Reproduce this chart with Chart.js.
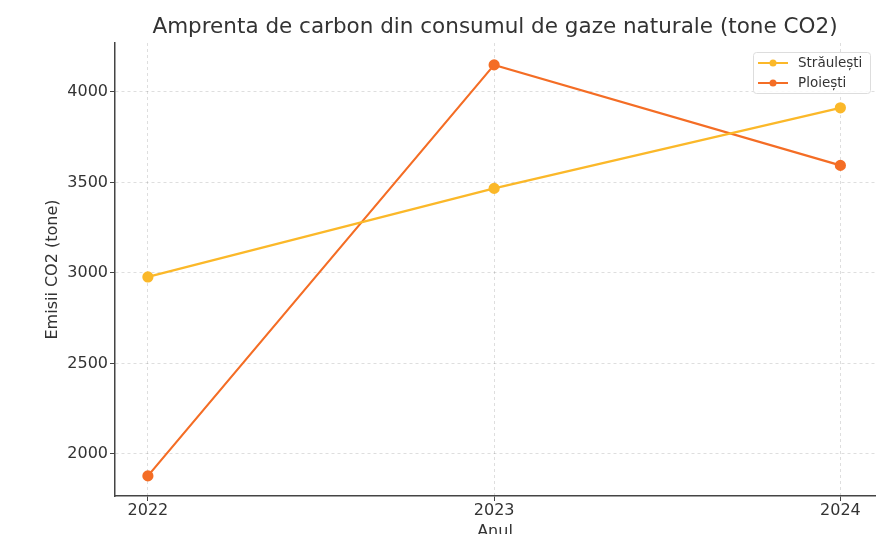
<!DOCTYPE html>
<html>
<head>
<meta charset="utf-8">
<script src="https://cdn.jsdelivr.net/npm/chart.js@4.4.0/dist/chart.umd.min.js"></script>
<style>
  html, body { margin: 0; padding: 0; background: #fff; }
  #wrap { width: 893px; height: 534px; }
</style>
</head>
<body>
<div id="wrap"><canvas id="graph"></canvas></div>
<script>
// data
const years = [2022, 2023, 2024];
const straulesti = [2978, 3467, 3912];
const ploiesti = [1879, 4149, 3594];
const yTicks = [2000, 2500, 3000, 3500, 4000];
const chartTitle = 'Amprenta de carbon din consumul de gaze naturale (tone CO2)';

const font = "'DejaVu Sans', sans-serif";
const gridColor = 'rgba(0,0,0,0.13)';
const axisColor = '#444';

// title centred over the plot area (matplotlib style), not the whole canvas
const plotTitle = {
  id: 'plotTitle',
  afterDraw(chart) {
    const ctx = chart.ctx;
    const area = chart.chartArea;
    ctx.save();
    ctx.font = '21.5px ' + font;
    ctx.fillStyle = '#333';
    ctx.textAlign = 'center';
    ctx.textBaseline = 'middle';
    ctx.fillText(chartTitle, (area.left + area.right) / 2, 27);
    ctx.restore();
  }
};

// small legend box in the top right corner of the plot
const cornerLegend = {
  id: 'cornerLegend',
  afterDraw(chart) {
    const ctx = chart.ctx;
    const area = chart.chartArea;
    const x0 = area.right - 122, y0 = area.top + 9;
    ctx.save();
    ctx.fillStyle = 'rgba(255,255,255,0.85)';
    ctx.strokeStyle = '#ddd';
    ctx.lineWidth = 1;
    ctx.beginPath();
    ctx.roundRect(x0 + 0.5, y0 + 0.5, 117, 41, 3);
    ctx.fill();
    ctx.stroke();
    ctx.font = '13.5px ' + font;
    ctx.textBaseline = 'middle';
    chart.data.datasets.forEach((ds, i) => {
      const y = y0 + 11 + i * 20;
      ctx.strokeStyle = ds.borderColor;
      ctx.lineWidth = 2;
      ctx.beginPath();
      ctx.moveTo(x0 + 5, y);
      ctx.lineTo(x0 + 35, y);
      ctx.stroke();
      ctx.fillStyle = ds.borderColor;
      ctx.beginPath();
      ctx.arc(x0 + 20, y, 3.5, 0, Math.PI * 2);
      ctx.fill();
      ctx.fillStyle = '#333';
      ctx.fillText(ds.label, x0 + 45, y);
    });
    ctx.restore();
  }
};

const toPoints = vals => years.map((y, i) => ({ x: y, y: vals[i] }));

new Chart(document.getElementById('graph'), {
  type: 'line',
  data: {
    datasets: [
      {
        label: 'Străulești',
        data: toPoints(straulesti),
        borderColor: '#fbb829',
        backgroundColor: '#fbb829',
        borderWidth: 2.2,
        pointRadius: 4.5,
        pointHoverRadius: 4.5
      },
      {
        label: 'Ploiești',
        data: toPoints(ploiesti),
        borderColor: '#f46d25',
        backgroundColor: '#f46d25',
        borderWidth: 2.2,
        pointRadius: 4.5,
        pointHoverRadius: 4.5
      }
    ]
  },
  options: {
    responsive: true,
    maintainAspectRatio: false,
    animation: false,
    layout: { padding: { left: 0, right: 18, top: 43, bottom: 0 } },
    plugins: {
      legend: { display: false },
      tooltip: { enabled: false },
      title: { display: false }
    },
    scales: {
      x: {
        type: 'linear',
        min: 2021.905,
        max: 2024.1,
        afterBuildTicks: s => { s.ticks = years.map(v => ({ value: v })); },
        afterFit: s => { s.height = 38; },
        ticks: {
          color: '#333',
          padding: 0,
          font: { family: font, size: 16 },
          callback: v => String(v)
        },
        grid: { color: gridColor, tickColor: axisColor, tickLength: 5 },
        border: { color: axisColor, width: 1.5, dash: [3, 3] },
        title: {
          display: true,
          text: 'Anul',
          color: '#333',
          font: { family: font, size: 16 },
          padding: { top: 0, bottom: -7 }
        }
      },
      y: {
        min: 1768,
        max: 4270,
        afterBuildTicks: s => { s.ticks = yTicks.map(v => ({ value: v })); },
        afterFit: s => { s.width = 115; },
        ticks: {
          color: '#333',
          padding: 2,
          font: { family: font, size: 16 },
          callback: v => String(v)
        },
        grid: { color: gridColor, tickColor: axisColor, tickLength: 5 },
        border: { color: axisColor, width: 1.5, dash: [3, 3] },
        title: {
          display: true,
          text: 'Emisii CO2 (tone)',
          color: '#333',
          font: { family: font, size: 16 },
          padding: { top: 43, bottom: 0 }
        }
      }
    }
  },
  plugins: [plotTitle, cornerLegend]
});
</script>
</body>
</html>
